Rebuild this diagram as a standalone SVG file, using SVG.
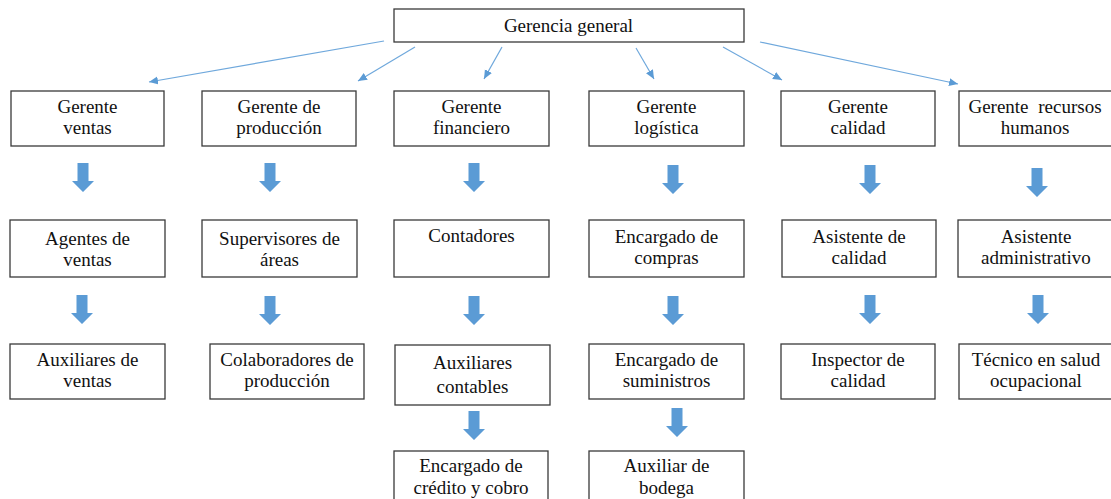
<svg xmlns="http://www.w3.org/2000/svg" xmlns:xlink="http://www.w3.org/1999/xlink" width="1111" height="499" viewBox="0 0 1111 499">
<style>
.box{fill:#fff;stroke:#3a3a3a;stroke-width:1.3}
.t{font-family:'Liberation Serif','Times New Roman','DejaVu Serif',serif;font-size:19px;fill:#111;text-anchor:middle}
.thin{stroke:#6fa8dc;stroke-width:1.2;fill:none}
.blk{fill:#5b9bd5}
</style>
<defs>
<marker id="ah" markerUnits="userSpaceOnUse" markerWidth="10" markerHeight="10" refX="9" refY="4" orient="auto">
<path d="M0,0 L9,4 L0,8 Z" fill="#5b9bd5"/>
</marker>
<path id="bar" d="M-5.5,0 H5.5 V18 H11 L0,29 L-11,18 H-5.5 Z"/>
</defs>
<rect width="1111" height="499" fill="#fff"/>
<g id="connectors">
<line class="thin" x1="384" y1="41" x2="149" y2="82" marker-end="url(#ah)"/>
<line class="thin" x1="415" y1="47" x2="358" y2="81" marker-end="url(#ah)"/>
<line class="thin" x1="502" y1="47" x2="484" y2="79" marker-end="url(#ah)"/>
<line class="thin" x1="636" y1="48" x2="654" y2="79" marker-end="url(#ah)"/>
<line class="thin" x1="723" y1="47" x2="782" y2="80" marker-end="url(#ah)"/>
<line class="thin" x1="760" y1="42" x2="958" y2="84" marker-end="url(#ah)"/>
<g class="blk">
<use xlink:href="#bar" x="83" y="163"/>
<use xlink:href="#bar" x="270" y="163"/>
<use xlink:href="#bar" x="474" y="163"/>
<use xlink:href="#bar" x="673" y="165"/>
<use xlink:href="#bar" x="870" y="165"/>
<use xlink:href="#bar" x="1037" y="168"/>
<use xlink:href="#bar" x="82" y="295"/>
<use xlink:href="#bar" x="270" y="296"/>
<use xlink:href="#bar" x="474" y="296"/>
<use xlink:href="#bar" x="673" y="296"/>
<use xlink:href="#bar" x="870" y="295"/>
<use xlink:href="#bar" x="1038" y="295"/>
<use xlink:href="#bar" x="474" y="411"/>
<use xlink:href="#bar" x="677" y="408"/>
</g>
</g>
<g id="gerencia-general"><rect class="box" x="394" y="9" width="350" height="33"/><text class="t" x="568.5" y="32">Gerencia general</text></g>

<g id="gerente-ventas"><rect class="box" x="11" y="91" width="153" height="55"/><text class="t" x="87.5" y="113">Gerente</text><text class="t" x="87.5" y="134">ventas</text></g>
<g id="gerente-produccion"><rect class="box" x="202" y="91" width="154" height="55"/><text class="t" x="279" y="113">Gerente de</text><text class="t" x="279" y="134">producción</text></g>
<g id="gerente-financiero"><rect class="box" x="394" y="91" width="155" height="55"/><text class="t" x="471.5" y="113">Gerente</text><text class="t" x="471.5" y="134">financiero</text></g>
<g id="gerente-logistica"><rect class="box" x="589" y="91" width="155" height="55"/><text class="t" x="666.5" y="113">Gerente</text><text class="t" x="666.5" y="134">logística</text></g>
<g id="gerente-calidad"><rect class="box" x="781" y="91" width="154" height="55"/><text class="t" x="858" y="113">Gerente</text><text class="t" x="858" y="134">calidad</text></g>
<g id="gerente-rrhh"><rect class="box" x="959" y="91" width="156" height="55"/><text class="t" x="1035" y="113" word-spacing="5">Gerente recursos</text><text class="t" x="1035" y="134">humanos</text></g>

<g id="agentes-ventas"><rect class="box" x="10" y="220" width="155" height="57"/><text class="t" x="87.5" y="245">Agentes de</text><text class="t" x="87.5" y="266">ventas</text></g>
<g id="supervisores"><rect class="box" x="202" y="220" width="155" height="57"/><text class="t" x="279.5" y="245">Supervisores de</text><text class="t" x="279.5" y="266">áreas</text></g>
<g id="contadores"><rect class="box" x="394" y="220" width="155" height="57"/><text class="t" x="471.5" y="242">Contadores</text></g>
<g id="encargado-compras"><rect class="box" x="589" y="220" width="155" height="57"/><text class="t" x="666.5" y="243">Encargado de</text><text class="t" x="666.5" y="264">compras</text></g>
<g id="asistente-calidad"><rect class="box" x="782" y="220" width="154" height="57"/><text class="t" x="859" y="243">Asistente de</text><text class="t" x="859" y="264">calidad</text></g>
<g id="asistente-admin"><rect class="box" x="958" y="220" width="156" height="57"/><text class="t" x="1036" y="243">Asistente</text><text class="t" x="1036" y="264">administrativo</text></g>

<g id="auxiliares-ventas"><rect class="box" x="10" y="344" width="155" height="55"/><text class="t" x="87.5" y="366">Auxiliares de</text><text class="t" x="87.5" y="387">ventas</text></g>
<g id="colaboradores"><rect class="box" x="210" y="344" width="154" height="55"/><text class="t" x="287" y="366">Colaboradores de</text><text class="t" x="287" y="387">producción</text></g>
<g id="auxiliares-contables"><rect class="box" x="395" y="345" width="155" height="60"/><text class="t" x="472.5" y="369">Auxiliares</text><text class="t" x="472.5" y="393">contables</text></g>
<g id="encargado-suministros"><rect class="box" x="589" y="344" width="155" height="55"/><text class="t" x="666.5" y="366">Encargado de</text><text class="t" x="666.5" y="387">suministros</text></g>
<g id="inspector-calidad"><rect class="box" x="781" y="344" width="154" height="55"/><text class="t" x="858" y="366">Inspector de</text><text class="t" x="858" y="387">calidad</text></g>
<g id="tecnico-salud"><rect class="box" x="959" y="344" width="156" height="55"/><text class="t" x="1036" y="366">Técnico en salud</text><text class="t" x="1036" y="387">ocupacional</text></g>

<g id="encargado-credito"><rect class="box" x="394" y="451" width="154" height="60"/><text class="t" x="471" y="472">Encargado de</text><text class="t" x="471" y="494">crédito y cobro</text></g>
<g id="auxiliar-bodega"><rect class="box" x="589" y="451" width="155" height="60"/><text class="t" x="666.5" y="472">Auxiliar de</text><text class="t" x="666.5" y="494">bodega</text></g>
</svg>
